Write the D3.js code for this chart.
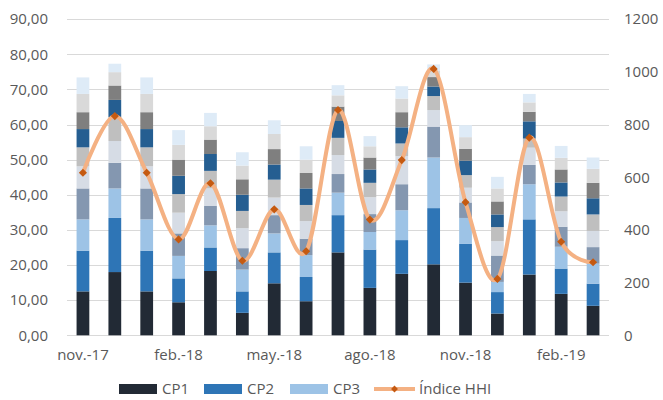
<!DOCTYPE html>
<html>
<head>
<meta charset="utf-8">
<script src="https://cdn.jsdelivr.net/npm/d3@7"></script>
<style>
  body { margin: 0; background: #fff; }
  svg { display: block; font-family: "Open Sans", sans-serif; }
</style>
</head>
<body>
<script>
// months, nov-17 to mar-19
const months = ["nov.-17", "dic.-17", "ene.-18", "feb.-18", "mar.-18", "abr.-18", "may.-18", "jun.-18",
  "jul.-18", "ago.-18", "sep.-18", "oct.-18", "nov.-18", "dic.-18", "ene.-19", "feb.-19", "mar.-19"];
const monthTicks = ["nov.-17", "feb.-18", "may.-18", "ago.-18", "nov.-18", "feb.-19"];

const seriesNames = ["CP1", "CP2", "CP3", "CP4", "CP5", "CP6", "CP7", "CP8", "CP9", "CP10"];
const cp1  = [12.5, 18.0, 12.5, 9.4, 18.3, 6.4, 14.8, 9.7, 23.6, 13.5, 17.5, 20.2, 15.0, 6.2, 17.3, 11.8, 8.4];
const cp2  = [11.6, 15.4, 11.6, 6.8, 6.7, 6.1, 8.8, 6.9, 10.6, 10.9, 9.6, 16.0, 11.0, 6.1, 15.7, 7.2, 6.3];
const cp3  = [8.9, 8.4, 8.9, 6.4, 6.3, 6.2, 5.4, 6.2, 6.4, 5.0, 8.5, 14.4, 7.4, 2.9, 10.0, 6.2, 5.7];
const cp4  = [8.8, 7.3, 8.8, 6.4, 5.5, 6.1, 5.2, 4.7, 5.3, 5.1, 7.4, 8.8, 4.4, 7.5, 5.5, 5.7, 4.7];
const cp5  = [6.3, 6.2, 6.3, 5.9, 5.0, 5.7, 5.0, 5.0, 5.4, 4.8, 8.0, 4.7, 4.2, 4.1, 4.9, 4.4, 4.6];
const cp6  = [5.4, 6.8, 5.4, 5.3, 5.0, 4.9, 5.1, 4.6, 4.9, 4.1, 3.6, 4.0, 3.6, 4.0, 2.6, 4.2, 4.7];
const cp7  = [5.2, 4.9, 5.2, 5.2, 4.8, 4.6, 4.3, 4.7, 4.8, 3.8, 4.6, 2.7, 4.1, 3.6, 4.9, 4.0, 4.6];
const cp8  = [4.8, 4.1, 4.8, 4.6, 4.1, 4.4, 4.4, 4.4, 4.1, 3.4, 4.3, 2.7, 3.4, 3.7, 2.7, 3.7, 4.4];
const cp9  = [5.2, 3.8, 5.2, 4.2, 3.8, 3.9, 4.3, 3.8, 3.2, 3.2, 3.9, 1.9, 3.3, 3.7, 2.7, 3.3, 4.0];
const cp10 = [4.7, 2.4, 4.7, 4.2, 3.8, 3.8, 3.9, 3.8, 2.9, 2.9, 3.5, 1.7, 3.4, 3.3, 2.4, 3.4, 3.2];
const hhi  = [617, 832, 617, 364, 577, 283, 478, 319, 855, 439, 665, 1011, 505, 214, 750, 355, 277];

const leftTicks = [0, 10, 20, 30, 40, 50, 60, 70, 80, 90];
const rightTicks = [0, 200, 400, 600, 800, 1000, 1200];

const colors = ["#222a35", "#2e75b6", "#9dc3e6", "#8497b0", "#d6dce5",
  "#bfbfbf", "#255e91", "#7f7f7f", "#d9d9d9", "#deebf7"];

function main() {
  const width = 663, height = 400;
  const left = 67, right = 609, top = 19.1, bottom = 335.3;
  const textColor = "#595959";

  const svg = d3.select("body").append("svg")
    .attr("width", width)
    .attr("height", height);

  // table of rows for the stack
  const cps = [cp1, cp2, cp3, cp4, cp5, cp6, cp7, cp8, cp9, cp10];
  const rows = months.map((m, i) => {
    const r = { month: m };
    seriesNames.forEach((s, j) => r[s] = cps[j][i]);
    return r;
  });

  const x = d3.scaleBand().domain(months).range([left, right]).paddingInner(0.6).paddingOuter(0.3);
  const y = d3.scaleLinear().domain([0, 90]).range([bottom, top]);
  const y2 = d3.scaleLinear().domain([0, 1200]).range([bottom, top]);

  // gridlines
  svg.append("g")
    .selectAll("line")
    .data(leftTicks)
    .enter()
    .append("line")
    .attr("x1", left)
    .attr("x2", right)
    .attr("y1", d => Math.round(y(d)) + 0.5)
    .attr("y2", d => Math.round(y(d)) + 0.5)
    .attr("stroke", "#d9d9d9")
    .attr("stroke-width", 1);

  // left axis
  const fmt = d => d3.format(".2f")(d).replace(".", ",");
  const gL = svg.append("g")
    .attr("transform", "translate(" + (left - 19) + ",0)")
    .call(d3.axisLeft(y).tickValues(leftTicks).tickFormat(fmt).tickSize(0).tickPadding(0));
  gL.select(".domain").remove();

  // right axis
  const gR = svg.append("g")
    .attr("transform", "translate(" + (right + 15) + ",0)")
    .call(d3.axisRight(y2).tickValues(rightTicks).tickFormat(d3.format("d")).tickSize(0).tickPadding(0));
  gR.select(".domain").remove();

  // bottom axis
  const gX = svg.append("g")
    .attr("transform", "translate(0," + (bottom + 14) + ")")
    .call(d3.axisBottom(x).tickValues(monthTicks).tickSize(0).tickPadding(0));
  gX.select(".domain").remove();

  svg.selectAll(".tick text")
    .attr("fill", textColor)
    .style("font-size", "15px")
    .style("font-family", "'Open Sans', sans-serif");

  // stacked bars
  const stack = d3.stack().keys(seriesNames)(rows);
  svg.append("g")
    .selectAll("g")
    .data(stack)
    .enter()
    .append("g")
    .attr("fill", (d, i) => colors[i])
    .selectAll("rect")
    .data(d => d)
    .enter()
    .append("rect")
    .attr("x", d => x(d.data.month))
    .attr("y", d => y(d[1]))
    .attr("width", x.bandwidth())
    .attr("height", d => y(d[0]) - y(d[1]));

  // HHI line
  const cx = (d, i) => x(months[i]) + x.bandwidth() / 2;
  const line = d3.line()
    .x(cx)
    .y(d => y2(d))
    .curve(d3.curveCardinal.tension(0));

  svg.append("path")
    .datum(hhi)
    .attr("d", line)
    .attr("fill", "none")
    .attr("stroke", "#f4b183")
    .attr("stroke-width", 4)
    .attr("stroke-linejoin", "round");

  svg.append("g")
    .selectAll("path")
    .data(hhi)
    .enter()
    .append("path")
    .attr("d", d3.symbol(d3.symbolDiamond2, 42))
    .attr("transform", (d, i) => "translate(" + cx(d, i) + "," + y2(d) + ")")
    .attr("fill", "#c55a11");

  // legend (first row only visible)
  const legendItems = [
    { name: "CP1", color: colors[0], x: 119 },
    { name: "CP2", color: colors[1], x: 204 },
    { name: "CP3", color: colors[2], x: 290 }
  ];
  const ly = 389;
  const lg = svg.append("g");
  legendItems.forEach(it => {
    lg.append("rect")
      .attr("x", it.x).attr("y", ly - 5)
      .attr("width", 38).attr("height", 10)
      .attr("fill", it.color);
    lg.append("text")
      .attr("x", it.x + 43).attr("y", ly + 5)
      .attr("fill", textColor)
      .style("font-size", "15px")
      .text(it.name);
  });
  lg.append("line")
    .attr("x1", 374).attr("x2", 415)
    .attr("y1", ly).attr("y2", ly)
    .attr("stroke", "#f4b183").attr("stroke-width", 4);
  lg.append("path")
    .attr("d", d3.symbol(d3.symbolDiamond2, 30))
    .attr("transform", "translate(394.5," + ly + ")")
    .attr("fill", "#c55a11");
  lg.append("text")
    .attr("x", 419).attr("y", ly + 5)
    .attr("fill", textColor)
    .style("font-size", "15px")
    .text("Índice HHI");
}

main();
</script>
</body>
</html>
